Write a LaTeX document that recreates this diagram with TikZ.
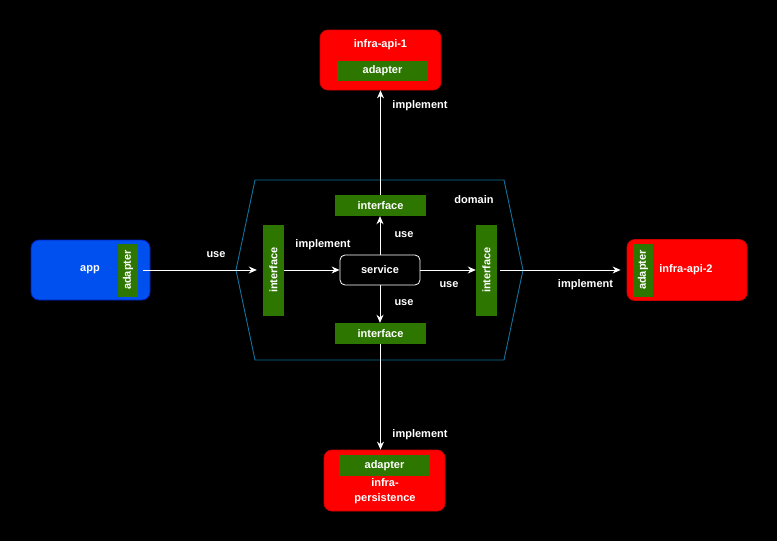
\documentclass[tikz,border=0pt]{standalone}
\usepackage{fontspec}
\setmainfont{Liberation Sans}
\usepackage{graphicx}
\usetikzlibrary{arrows.meta}
\definecolor{grn}{HTML}{2D7600}
\definecolor{redf}{HTML}{FF0000}
\definecolor{redd}{HTML}{D00000}
\definecolor{bluef}{HTML}{0050EF}
\definecolor{blued}{HTML}{001DBC}
\definecolor{hexc}{HTML}{10739E}
\begin{document}
\begin{tikzpicture}[x=1pt,y=-1pt,
  font=\fontsize{11}{13}\selectfont\bfseries,
  every node/.style={text=white, inner sep=0pt},
  redbox/.style={fill=redf, draw=redd, line width=0.8pt, rounded corners=8pt},
  bluebox/.style={fill=bluef, draw=blued, line width=0.8pt, rounded corners=8pt},
  grnbox/.style={fill=grn},
  lbl/.style={},
  conn/.style={draw=white, line width=0.9pt, -{Stealth[length=8pt,width=7pt]}}]
\fill[black] (0,0) rectangle (777,541);
\useasboundingbox (0,0) rectangle (777,541);

% domain hexagon
\draw[hexc, line width=0.9pt] (255,180) -- (504,180) -- (523,270) -- (504,360) -- (255,360) -- (236,270) -- cycle;
\node[lbl] (dom) at (474,200) {domain};

% infra-api-1
\node[redbox, minimum width=121pt, minimum height=60pt] (api1) at (380.5,60) {};
\node (api1t) at (380.5,45) {infra-api-1};
\node[grnbox, minimum width=91pt, minimum height=20pt] (api1a) at (382.5,71) {adapter};

% interfaces
\node[grnbox, minimum width=91pt, minimum height=21pt] (tint) at (380.5,205.5) {interface};
\node[grnbox, minimum width=91pt, minimum height=21pt] (bint) at (380.5,333.5) {interface};
\node[grnbox, minimum width=21pt, minimum height=91pt] (lint) at (273.5,270) {\rotatebox{90}{interface}};
\node[grnbox, minimum width=21pt, minimum height=91pt] (rint) at (486.5,270) {\rotatebox{90}{interface}};

% service
\node[draw=white, fill=black, line width=0.8pt, rounded corners=5pt, minimum width=80pt, minimum height=30pt] (svc) at (380,270) {service};

% app
\node[bluebox, minimum width=119pt, minimum height=60pt] (app) at (90.5,270) {};
\node (appt) at (90,270) {app};
\node[grnbox, minimum width=20pt, minimum height=53pt] (appa) at (128,270) {\rotatebox{90}{adapter}};

% infra-api-2
\node[redbox, minimum width=120pt, minimum height=61pt] (api2) at (687,270) {};
\node[grnbox, minimum width=20pt, minimum height=53pt] (api2a) at (643,270) {\rotatebox{90}{adapter}};
\node (api2t) at (686,270) {infra-api-2};

% infra-persistence
\node[redbox, minimum width=121pt, minimum height=61pt] (pers) at (384.5,480.5) {};
\node[grnbox, minimum width=91pt, minimum height=21pt] (persa) at (384.5,465.5) {adapter};
\node[align=center, font=\fontsize{11}{15}\selectfont\bfseries] (perst) at (385,491) {infra-\\persistence};

% connectors
\draw[conn] (tint.north) -- (tint.north |- api1.south);
\draw[conn] (bint.south) -- (bint.south |- pers.north);
\draw[conn, shorten <=5pt, shorten >=6pt] (appa.east) -- (lint.west);
\draw[conn] (lint.east) -- (svc.west);
\draw[conn] (svc.north) -- (svc.north |- tint.south);
\draw[conn] (svc.south) -- (svc.south |- bint.north);
\draw[conn] (svc.east) -- (rint.west);
\draw[conn, shorten <=3pt, shorten >=6pt] (rint.east) -- (api2.west);

% labels
\node[lbl] (l1) at (420,105.5) {implement};
\node[lbl] (l2) at (420,435) {implement};
\node[lbl] (l3) at (216,255) {use};
\node[lbl] (l4) at (323,245) {implement};
\node[lbl] (l5) at (404,235) {use};
\node[lbl] (l6) at (404,302.5) {use};
\node[lbl] (l7) at (449,285) {use};
\node[lbl] (l8) at (585.5,284.5) {implement};
\end{tikzpicture}
\end{document}
